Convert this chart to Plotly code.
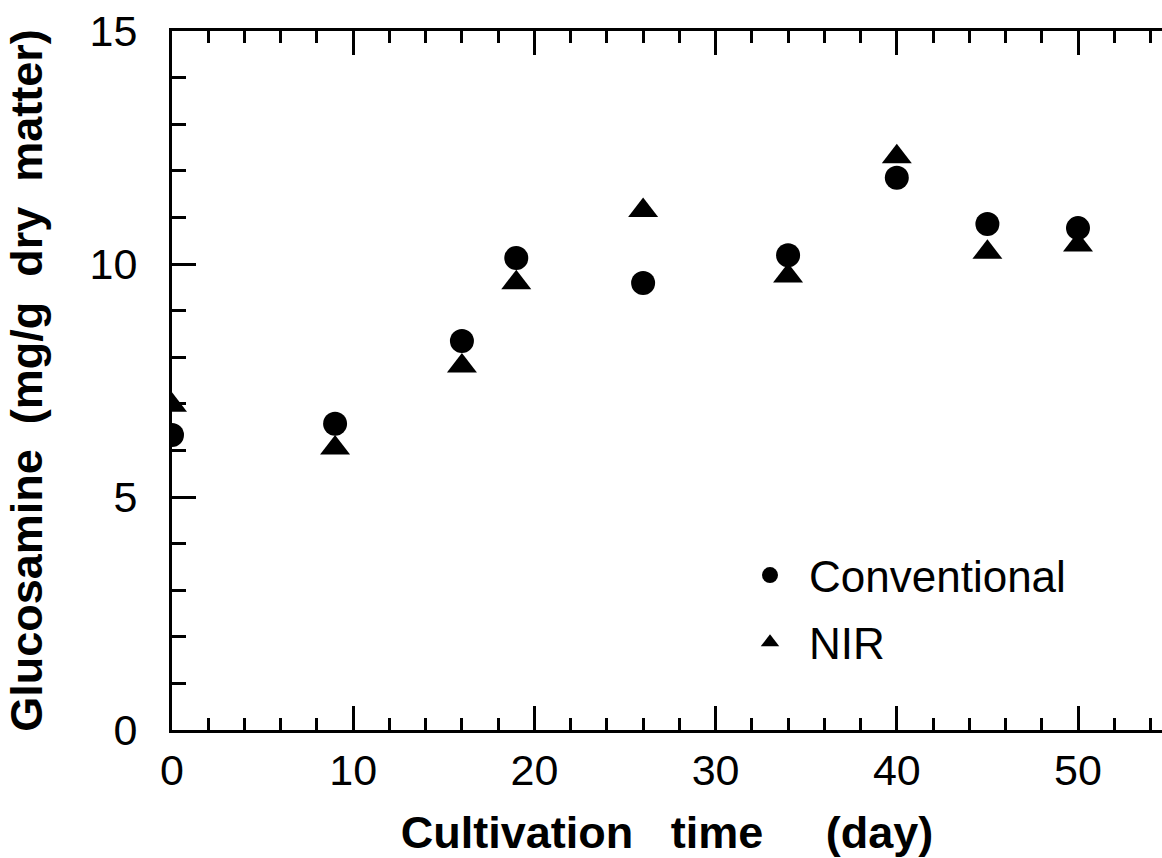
import plotly.graph_objects as go

days = [0, 9, 16, 19, 26, 34, 40, 45, 50]
conventional = [6.33, 6.57, 8.35, 10.13, 9.59, 10.19, 11.85, 10.86, 10.77]
nir = [6.97, 6.05, 7.81, 9.60, 11.15, 9.74, 12.30, 10.25, 10.41]

x_ticks = [0, 10, 20, 30, 40, 50]
y_ticks = [0, 5, 10, 15]

FONT = "Liberation Sans, Arial, Helvetica, sans-serif"
NB = "\u00a0"

fig = go.Figure()
fig.add_trace(go.Scatter(x=days, y=conventional, mode="markers", name="Conventional",
                         legendgroup="a",
                         marker=dict(symbol="circle", size=24, color="black")))
fig.add_trace(go.Scatter(x=days, y=nir, mode="markers", name="NIR",
                         legendgroup="b",
                         marker=dict(symbol="triangle-up", size=26, color="black")))

axis_common = dict(showgrid=False, zeroline=False, linecolor="black", linewidth=3,
                   ticks="inside", tickwidth=3, tickcolor="black", ticklen=24,
                   tickfont=dict(family=FONT, size=43, color="black"))

fig.update_layout(
    width=1162, height=858,
    margin=dict(l=172, r=0, t=31, b=128),
    paper_bgcolor="white", plot_bgcolor="white",
    showlegend=True,
    legend=dict(x=(731 - 172) / 990, y=(730 - 540) / 699, xanchor="left", yanchor="top",
                bgcolor="rgba(0,0,0,0)", font=dict(family=FONT, size=44, color="black"),
                tracegroupgap=7, itemwidth=68),
    xaxis=dict(range=[0, 990 / 18.12], tickvals=x_ticks, showline=True, mirror="ticks",
               ticklabelstandoff=0,
               minor=dict(dtick=2, ticks="inside", ticklen=12, tickwidth=3, tickcolor="black"),
               title=dict(text="Cultivation" + NB * 3 + "time" + NB * 5 + "(day)",
                          font=dict(family=FONT, size=45, color="black", weight="bold"),
                          standoff=27),
               **axis_common),
    yaxis=dict(range=[0, 15], tickvals=y_ticks, showline=True, mirror=False,
               ticklabelstandoff=23,
               minor=dict(dtick=1, ticks="inside", ticklen=14, tickwidth=3, tickcolor="black"),
               title=dict(text="Glucosamine" + NB * 2 + "(mg/g" + NB * 2 + "dry" + NB * 2 + "matter)",
                          font=dict(family=FONT, size=45, color="black", weight="bold"),
                          standoff=33),
               **axis_common),
    yaxis2=dict(overlaying="y", side="right", range=[0, 15], tickvals=y_ticks,
                showticklabels=False, showline=False, showgrid=False, zeroline=False,
                ticks="inside", tickwidth=3, tickcolor="black", ticklen=20,
                minor=dict(dtick=1, ticks="inside", ticklen=8, tickwidth=3, tickcolor="black")),
)

fig.write_html("out.html")
